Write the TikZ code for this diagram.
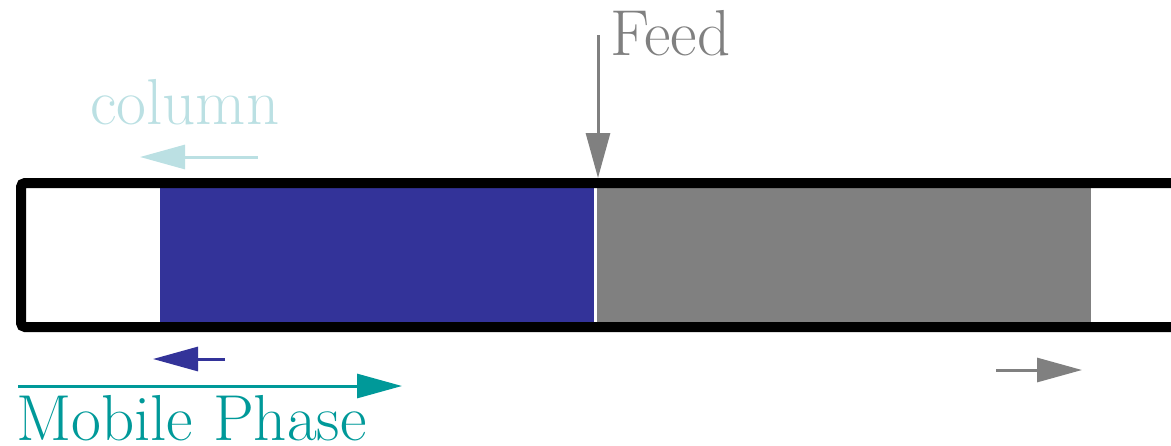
\documentclass[tikz,border=0pt]{standalone}
\usepackage{fontspec}
\usetikzlibrary{arrows.meta}
\definecolor{bandblue}{HTML}{333399}
\definecolor{bandgray}{HTML}{808080}
\definecolor{phaseteal}{HTML}{009999}
\definecolor{colcyan}{HTML}{BBE0E3}
\tikzset{
  lbl/.style={inner sep=0pt, font=\rmfamily\fontsize{65}{72}\selectfont},
  flow/.style={line width=3pt, -{Triangle[length=45pt,width=24pt]}},
  band/.style={draw=none, inner sep=0pt, anchor=north west}
}
\begin{document}
\begin{tikzpicture}[x=1pt,y=-1pt]
  \useasboundingbox (0,0) rectangle (1171,445);
  % packed bands inside the column
  \node[band, fill=bandblue, minimum width=434pt, minimum height=136pt] (blue) at (160,187) {};
  \node[band, fill=bandgray, minimum width=494pt, minimum height=136pt] (gray) at (597,187) {};
  % column wall (open to the right)
  \draw[line width=10pt, rounded corners=4pt] (1200,183) -- (21,183) -- (21,327) -- (1200,327);
  % labels
  \node[lbl, text=bandgray, anchor=base west] (feed) at (610,55) {Feed};
  \node[lbl, text=colcyan, anchor=base west] (column) at (90,124) {column};
  \node[lbl, text=phaseteal, anchor=base west] (mobile) at (16,440) {Mobile Phase};
  % arrows
  \coordinate (feedS) at (598,35);  \coordinate (feedE) at (598,178);
  \coordinate (colS) at (258,157);  \coordinate (colE) at (140,157);
  \coordinate (blS) at (225,359);   \coordinate (blE) at (153,359);
  \coordinate (mpS) at (18,386);    \coordinate (mpE) at (402,386);
  \coordinate (grS) at (996,370);   \coordinate (grE) at (1082,370);
  \draw[flow, bandgray] (feedS) -- (feedE);
  \draw[flow, colcyan] (colS) -- (colE);
  \draw[flow, bandblue] (blS) -- (blE);
  \draw[flow, phaseteal] (mpS) -- (mpE);
  \draw[flow, bandgray] (grS) -- (grE);
\end{tikzpicture}
\end{document}
